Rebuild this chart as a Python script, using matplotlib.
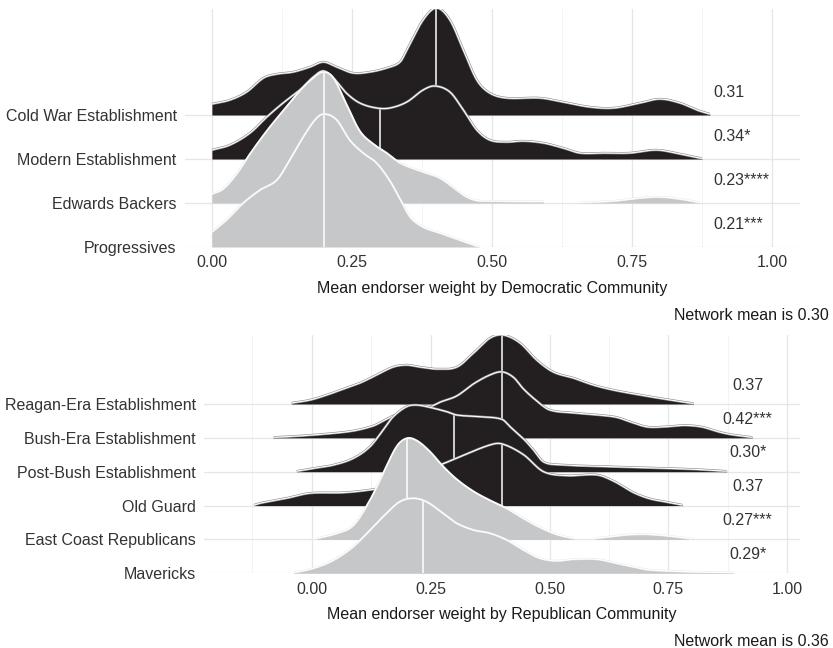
import numpy as np
import matplotlib
matplotlib.use("Agg")
import matplotlib.pyplot as plt
import matplotlib.patheffects as pe

plt.rcParams['font.family'] = ['Liberation Sans', 'DejaVu Sans']

nan = np.nan

# ---------------- Democratic panel ----------------
dem_groups = ["Cold War Establishment", "Modern Establishment", "Edwards Backers", "Progressives"]
dem_dark = [True, True, False, False]
dem_labels = ["0.31", "0.34*", "0.23****", "0.21***"]
dem_medians = [0.40, 0.30, 0.20, 0.20]

cold_war_x = [0.000, 0.032, 0.062, 0.092, 0.116, 0.145, 0.175, 0.199, 0.223, 0.252, 0.282, 0.312, 0.336,
              0.348, 0.377, 0.401, 0.425, 0.449, 0.473, 0.496, 0.526, 0.586, 0.627, 0.675, 0.717, 0.764,
              0.800, 0.836, 0.866, 0.889]
cold_war_d = [11, 15, 23, 37, 41, 43, 48, 53, 48, 42, 43, 47, 53,
              65, 95, 107, 95, 65, 35, 22, 17, 17, 13, 8, 7, 12,
              16, 12, 5, 1]

modern_x = [0.000, 0.032, 0.068, 0.098, 0.127, 0.157, 0.181, 0.199, 0.217, 0.240, 0.264, 0.294, 0.318,
            0.348, 0.377, 0.398, 0.425, 0.449, 0.473, 0.496, 0.526, 0.556, 0.592, 0.627, 0.657, 0.700,
            0.746, 0.794, 0.836, 0.875]
modern_d = [9, 14, 26, 42, 56, 69, 82, 88, 81, 66, 56, 51, 51,
            57, 69, 73, 67, 49, 29, 19, 17, 18, 16, 11, 6, 6,
            6, 9, 5, 0.5]

edwards_x = [0.000, 0.020, 0.044, 0.068, 0.098, 0.127, 0.157, 0.181, 0.199, 0.217, 0.240, 0.264, 0.288,
             0.312, 0.336, 0.377, 0.407, 0.437, 0.455, 0.473, 0.496, 0.556, 0.592, nan,
             0.657, 0.717, 0.764, 0.800, 0.836, 0.871]
edwards_d = [9, 14, 29, 49, 72, 92, 112, 125, 131, 125, 99, 72, 59,
             50, 40, 31, 25, 13, 6, 2.5, 2, 1.5, 1.5, nan,
             0.5, 2, 5, 6, 4, 0.5]

progressives_x = [0.000, 0.026, 0.056, 0.086, 0.116, 0.139, 0.163, 0.187, 0.202, 0.223, 0.246, 0.270,
                  0.294, 0.318, 0.336, 0.354, 0.377, 0.407, 0.437, 0.467, 0.477]
progressives_d = [15, 27, 44, 57, 67, 87, 110, 129, 133, 127, 107, 94,
                  84, 66, 48, 30, 20, 14, 8, 2, 0.5]

dem_x = [cold_war_x, modern_x, edwards_x, progressives_x]
dem_d = [cold_war_d, modern_d, edwards_d, progressives_d]

# ---------------- Republican panel ----------------
rep_groups = ["Reagan-Era Establishment", "Bush-Era Establishment", "Post-Bush Establishment",
              "Old Guard", "East Coast Republicans", "Mavericks"]
rep_dark = [True, True, True, True, False, False]
rep_labels = ["0.37", "0.42***", "0.30*", "0.37", "0.27***", "0.29*"]
rep_medians = [0.40, 0.40, 0.30, 0.40, 0.20, 0.233]

reagan_x = [-0.043, -0.004, 0.031, 0.066, 0.101, 0.136, 0.171, 0.199, 0.227, 0.263, 0.305, 0.340,
            0.375, 0.403, 0.438, 0.473, 0.508, 0.550, 0.592, 0.634, 0.691, 0.754, 0.803]
reagan_d = [1, 4, 9, 15, 21, 29, 37, 39, 37, 35, 37, 51,
            66, 69, 61, 44, 32, 26, 19, 14, 9, 4, 0.5]

bush_x = [-0.081, -0.039, 0.031, 0.087, 0.129, 0.150, 0.171, 0.200, 0.248, 0.269, 0.305, 0.340,
          0.375, 0.400, 0.424, 0.445, 0.473, 0.500, 0.550, 0.600, 0.641, 0.670, 0.705, 0.740,
          0.782, 0.820, 0.852, 0.880, 0.927]
bush_d = [0.5, 1.5, 4, 7, 12, 17, 22, 27, 31, 35.6, 42, 54,
          63, 66, 60.6, 49, 37, 28, 25, 23, 20.6, 16, 11, 11,
          12.5, 11, 6.5, 3.5, 0.5]

post_bush_x = [-0.032, 0.003, 0.045, 0.087, 0.122, 0.150, 0.171, 0.199, 0.220, 0.248, 0.284, 0.305,
               0.354, 0.400, 0.417, 0.445, 0.466, 0.487, 0.520, 0.600, 0.700, 0.800, 0.873]
post_bush_d = [0.5, 3.4, 6.7, 13.4, 25, 41.7, 55, 65, 66.7, 64.4, 60, 56.7,
               55, 52.4, 45, 33, 22, 10, 7, 5.5, 4, 2.5, 0.5]

old_guard_x = [-0.122, -0.109, -0.053, -0.004, 0.066, 0.122, 0.160, 0.200, 0.240, 0.277, 0.312, 0.375,
               0.400, 0.445, 0.487, 0.536, 0.600, 0.635, 0.677, 0.710, 0.747, 0.780]
old_guard_d = [0.5, 2.4, 7.4, 12.4, 13, 15.7, 19, 26, 35, 42, 49, 60.7,
               61.7, 51, 34, 30, 30.7, 24.5, 13, 7, 3.5, 0.5]

east_coast_x = [0.010, 0.052, 0.087, 0.122, 0.150, 0.178, 0.199, 0.220, 0.248, 0.276, 0.305, 0.340,
                0.375, 0.410, 0.445, 0.480, 0.515, 0.550, nan,
                0.596, 0.648, 0.676, 0.712, 0.760, 0.800]
east_coast_d = [1, 6, 14, 39, 66, 92.6, 101, 99, 88, 73, 60, 48,
                39, 31, 21, 12, 5, 1, nan,
                1, 4, 5, 5, 3, 0.5]

mavericks_x = [-0.039, 0.003, 0.045, 0.087, 0.122, 0.157, 0.185, 0.213, 0.241, 0.276, 0.305, 0.340,
               0.375, 0.410, 0.445, 0.480, 0.515, 0.550, 0.600, 0.641, 0.680, 0.712, 0.800, 0.887]
mavericks_d = [0.5, 5, 13, 26.6, 43, 60, 71.6, 75, 71.6, 60, 50, 43.3,
               40, 33.3, 23.3, 15, 12.5, 14, 14, 10, 6, 3.3, 1.5, 0.5]

rep_x = [reagan_x, bush_x, post_bush_x, old_guard_x, east_coast_x, mavericks_x]
rep_d = [reagan_d, bush_d, post_bush_d, old_guard_d, east_coast_d, mavericks_d]

tick_vals = [0.0, 0.25, 0.5, 0.75, 1.0]
tick_text = ["0.00", "0.25", "0.50", "0.75", "1.00"]

DARK = "#231f20"
LIGHT = "#c6c7c8"
TEXT = "#333333"


def spline(x, y, xn):
    """Cardinal (Catmull-Rom style) cubic Hermite curve through the read points."""
    x = np.asarray(x, float)
    y = np.asarray(y, float)
    n = len(x)
    if n < 3:
        return np.interp(xn, x, y)
    h = np.diff(x)
    d = np.zeros(n)
    d[1:-1] = (y[2:] - y[:-2]) / (x[2:] - x[:-2])
    d[0] = (y[1] - y[0]) / h[0]
    d[-1] = (y[-1] - y[-2]) / h[-1]
    xn = np.asarray(xn, float)
    idx = np.clip(np.searchsorted(x, xn) - 1, 0, n - 2)
    t = (xn - x[idx]) / h[idx]
    h00 = 2 * t**3 - 3 * t**2 + 1
    h10 = t**3 - 2 * t**2 + t
    h01 = -2 * t**3 + 3 * t**2
    h11 = t**3 - t**2
    return h00 * y[idx] + h10 * h[idx] * d[idx] + h01 * y[idx + 1] + h11 * h[idx] * d[idx + 1]


def segments(xs, ds):
    segs, cx, cd = [], [], []
    for a, b in zip(xs, ds):
        if np.isnan(a):
            if cx:
                segs.append((cx, cd))
            cx, cd = [], []
        else:
            cx.append(a)
            cd.append(b)
    if cx:
        segs.append((cx, cd))
    return segs


def draw_ridge(ax, base, xs, ds, scale, dark, median, z):
    fill = DARK if dark else LIGHT
    edge = [pe.Stroke(linewidth=1.7, foreground="#8f8f8f"), pe.Normal()] if dark else \
           [pe.Stroke(linewidth=1.5, foreground="#e9e9e9"), pe.Normal()]
    for sx, sd in segments(xs, ds):
        xn = np.linspace(sx[0], sx[-1], 600)
        yn = np.clip(spline(sx, sd, xn), 0, None) * scale
        ax.fill_between(xn, base, base + yn, color=fill, lw=0, zorder=z)
        if sx[0] <= median <= sx[-1]:
            hm = float(np.clip(spline(sx, sd, [median])[0], 0, None)) * scale
            ax.plot([median, median], [base, base + hm], color="white", lw=1.1, zorder=z + 0.1,
                    solid_capstyle="butt")
        ax.plot(xn, base + yn, color="white", lw=0.8, zorder=z + 0.2, solid_capstyle="butt",
                path_effects=edge)


def panel(ax, groups, xs_list, ds_list, darks, medians, labels, spacing_px, xlim, ylim_top,
          minor, label_x, label_ha, xlabel):
    n = len(groups)
    bases = [n - 1 - i for i in range(n)]
    scale = 1.0 / spacing_px
    for i in range(n):
        draw_ridge(ax, bases[i], xs_list[i], ds_list[i], scale, darks[i], medians[i], 2 + i)
        ax.text(label_x, bases[i] + 0.42, labels[i], ha=label_ha, va="baseline",
                fontsize=11.5, color=TEXT, zorder=20)
    ax.set_xlim(*xlim)
    ax.set_ylim(0, ylim_top)
    ax.set_xticks(tick_vals)
    ax.set_xticklabels(tick_text)
    ax.set_xticks(minor, minor=True)
    ax.set_yticks(bases)
    ax.set_yticklabels(groups)
    ax.set_axisbelow(True)
    ax.grid(which="major", color="#e6e6e6", lw=0.9, zorder=0)
    ax.grid(which="minor", axis="x", color="#efefef", lw=0.5, zorder=0)
    for s in ax.spines.values():
        s.set_visible(False)
    ax.tick_params(which="both", length=0, labelsize=11.5, labelcolor=TEXT)
    ax.tick_params(axis="x", pad=6)
    ax.tick_params(axis="y", pad=6)
    ax.set_xlabel(xlabel, fontsize=11.5, color="#1a1a1a", labelpad=7.5)
    ax.patch.set_alpha(0)


fig = plt.figure(figsize=(8.33, 6.48), dpi=100)
fig.patch.set_facecolor("white")

ax1 = fig.add_axes([185 / 833, (648 - 247) / 648, 615 / 833, 238 / 648])
panel(ax1, dem_groups, dem_x, dem_d, dem_dark, dem_medians, dem_labels, 44.0,
      (-0.048, 1.05), 238 / 44.0, [0.125, 0.375, 0.625, 0.875], 0.896, "left",
      "Mean endorser weight by Democratic Community")

ax2 = fig.add_axes([204 / 833, (648 - 573.3) / 648, 596 / 833, 238.3 / 648])
panel(ax2, rep_groups, rep_x, rep_d, rep_dark, rep_medians, rep_labels, 33.86,
      (-0.227, 1.027), 238.3 / 33.86, [-0.125, 0.125, 0.375, 0.625, 0.875], 0.917, "center",
      "Mean endorser weight by Republican Community")

fig.text(829 / 833, 1 - 315 / 648, "Network mean is 0.30", ha="right", va="center",
         fontsize=11.5, color="#1a1a1a")
fig.text(829 / 833, 1 - 641 / 648, "Network mean is 0.36", ha="right", va="center",
         fontsize=11.5, color="#1a1a1a")

fig.savefig("out.png", dpi=100, facecolor="white")
